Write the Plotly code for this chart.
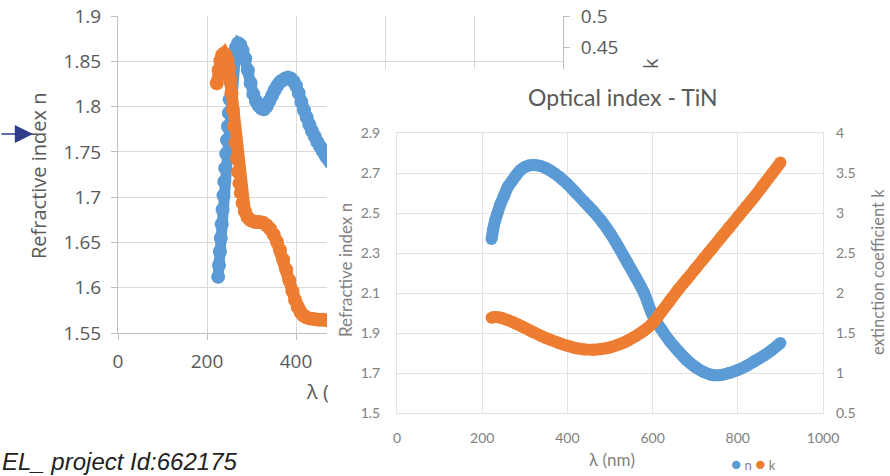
import plotly.graph_objects as go

W, H = 890, 476


def px(x):
    return x / W


def py(y):
    return 1 - y / H


BLUE = "#5b9bd5"
ORANGE = "#ed7d31"

# ---------------- left (partly hidden) chart data ----------------
left_n_wl = [225, 227, 229, 231, 233, 235, 237, 239, 241, 243, 245, 247, 249, 251, 254, 257,
             261, 265, 270, 275, 280, 286, 292, 298, 304, 310, 316, 322, 328, 334, 340, 346,
             352, 358, 364, 370, 376, 382, 388, 394, 400, 406, 412, 418, 424, 430, 436, 442,
             448, 454, 460, 466, 472, 478]
left_n = [1.612, 1.625, 1.640, 1.655, 1.670, 1.686, 1.702, 1.717, 1.732, 1.748, 1.763, 1.778,
          1.793, 1.808, 1.826, 1.841, 1.855, 1.865, 1.870, 1.868, 1.862, 1.853, 1.840, 1.826,
          1.814, 1.806, 1.801, 1.798, 1.797, 1.800, 1.806, 1.812, 1.818, 1.823, 1.827, 1.829,
          1.831, 1.832, 1.831, 1.828, 1.823, 1.815, 1.805, 1.796, 1.788, 1.780, 1.773, 1.767,
          1.761, 1.756, 1.751, 1.746, 1.742, 1.738]

left_k_wl = [222, 226, 230, 234, 238, 242, 246, 249, 252, 255, 258, 261, 264, 267, 270, 273,
             276, 280, 285, 291, 297, 304, 310, 318, 326, 334, 342, 350, 357, 364, 371, 378,
             385, 392, 398, 404, 410, 416, 422, 430, 440, 450, 460, 470, 480]
left_k = [0.394, 0.415, 0.430, 0.438, 0.441, 0.438, 0.430, 0.418, 0.400, 0.378, 0.352, 0.326,
          0.300, 0.275, 0.254, 0.236, 0.221, 0.205, 0.192, 0.183, 0.178, 0.176, 0.175, 0.175,
          0.174, 0.170, 0.164, 0.155, 0.144, 0.131, 0.116, 0.100, 0.083, 0.066, 0.052, 0.041,
          0.033, 0.028, 0.025, 0.023, 0.022, 0.021, 0.021, 0.020, 0.020]

# tick positions of the left chart; labels that lie under the overlapping panel are blank
left_x_ticks = [0, 200, 400, 600, 800, 1000]
left_x_labels = ["0", "200", "400", "", "", ""]
left_n_ticks = [1.55, 1.6, 1.65, 1.7, 1.75, 1.8, 1.85, 1.9]
left_n_labels = ["1.55", "1.6", "1.65", "1.7", "1.75", "1.8", "1.85", "1.9"]
left_k_ticks = [0, 0.05, 0.1, 0.15, 0.2, 0.25, 0.3, 0.35, 0.4, 0.45, 0.5]
left_k_labels = ["", "", "", "", "", "", "", "", "", "0.45", "0.5"]

# ---------------- right chart data: Optical index - TiN ----------------
tin_n_wl = [222, 226, 230, 236, 242, 250, 260, 270, 280, 290, 300, 310, 320, 330, 340, 350,
            360, 370, 380, 390, 400, 420, 440, 460, 480, 500, 520, 540, 560, 580, 600, 620,
            640, 660, 680, 700, 720, 740, 760, 780, 800, 820, 840, 860, 880, 900]
tin_n = [2.37, 2.42, 2.46, 2.50, 2.54, 2.58, 2.63, 2.66, 2.69, 2.715, 2.73, 2.738, 2.74, 2.738,
         2.733, 2.724, 2.712, 2.698, 2.682, 2.664, 2.645, 2.60, 2.555, 2.51, 2.46, 2.40, 2.33,
         2.255, 2.18, 2.10, 1.99, 1.92, 1.86, 1.81, 1.765, 1.73, 1.705, 1.69, 1.69, 1.70, 1.715,
         1.735, 1.76, 1.785, 1.815, 1.85]

tin_k_wl = [222, 230, 240, 250, 260, 270, 280, 290, 300, 320, 340, 360, 380, 400, 420, 440,
            460, 480, 500, 520, 540, 560, 580, 600, 620, 640, 660, 680, 700, 720, 740, 760,
            780, 800, 820, 840, 860, 880, 900]
tin_k = [1.69, 1.70, 1.695, 1.68, 1.66, 1.64, 1.615, 1.59, 1.565, 1.51, 1.46, 1.415, 1.375,
         1.34, 1.31, 1.295, 1.29, 1.30, 1.32, 1.355, 1.40, 1.46, 1.53, 1.62, 1.76, 1.90, 2.04,
         2.17, 2.30, 2.43, 2.56, 2.69, 2.82, 2.95, 3.08, 3.21, 3.35, 3.49, 3.63]

tin_x_ticks = [0, 200, 400, 600, 800, 1000]
tin_x_labels = ["0", "200", "400", "600", "800", "1000"]
tin_n_ticks = [1.5, 1.7, 1.9, 2.1, 2.3, 2.5, 2.7, 2.9]
tin_n_labels = ["1.5", "1.7", "1.9", "2.1", "2.3", "2.5", "2.7", "2.9"]
tin_k_ticks = [0.5, 1, 1.5, 2, 2.5, 3, 3.5, 4]
tin_k_labels = ["0.5", "1", "1.5", "2", "2.5", "3", "3.5", "4"]

LFONT = "Open Sans, DejaVu Sans, sans-serif"
RFONT = "Lato, Open Sans, sans-serif"
LGRAY = "#595959"
RGRAY = "#7f7f7f"

fig = go.Figure()

# left chart
fig.add_trace(go.Scatter(x=left_n_wl, y=left_n, mode="lines+markers", name="n",
                         line=dict(color=BLUE, width=11), marker=dict(color=BLUE, size=14),
                         xaxis="x", yaxis="y", showlegend=False, hoverinfo="skip"))
fig.add_trace(go.Scatter(x=left_k_wl, y=left_k, mode="lines+markers", name="k",
                         line=dict(color=ORANGE, width=12), marker=dict(color=ORANGE, size=14),
                         xaxis="x", yaxis="y2", showlegend=False, hoverinfo="skip"))
# white panel of the overlapping screenshot
fig.add_trace(go.Scatter(x=[], y=[], xaxis="x2", yaxis="y3", showlegend=False, hoverinfo="skip"))
# right chart
fig.add_trace(go.Scatter(x=tin_n_wl, y=tin_n, mode="lines+markers", name="n",
                         line=dict(color=BLUE, width=12, shape="spline"),
                         marker=dict(color=BLUE, size=12),
                         xaxis="x3", yaxis="y4", showlegend=False, hoverinfo="skip"))
fig.add_trace(go.Scatter(x=tin_k_wl, y=tin_k, mode="lines+markers", name="k",
                         line=dict(color=ORANGE, width=12, shape="spline"),
                         marker=dict(color=ORANGE, size=12),
                         xaxis="x3", yaxis="y5", showlegend=False, hoverinfo="skip"))

LGRID = "#d9d9d9"
LLINE = "#bfbfbf"
RGRID = "#e2e2e2"

common = dict(automargin=False, zeroline=False, fixedrange=True)

fig.update_layout(
    template="none",
    width=W, height=H, margin=dict(l=0, r=0, t=0, b=0, pad=0), autosize=False,
    paper_bgcolor="white", plot_bgcolor="white", showlegend=False,
    xaxis=dict(domain=[px(118), px(563)], range=[0, 1000], anchor="y",
               tickvals=left_x_ticks, ticktext=left_x_labels,
               showgrid=True, gridcolor=LGRID, gridwidth=1,
               showline=True, linecolor=LLINE, linewidth=1,
               ticks="outside", ticklen=6, tickcolor=LLINE, tickwidth=1,
               ticklabelstandoff=5,
               tickfont=dict(family=LFONT, size=19, color=LGRAY), **common),
    yaxis=dict(domain=[py(333), py(16)], range=[1.55, 1.9], anchor="x",
               tickvals=left_n_ticks, ticktext=left_n_labels,
               showgrid=True, gridcolor=LGRID, gridwidth=1,
               showline=True, linecolor=LLINE, linewidth=1,
               ticks="outside", ticklen=6, tickcolor=LLINE, tickwidth=1,
               ticklabelstandoff=6,
               tickfont=dict(family=LFONT, size=19, color=LGRAY), **common),
    yaxis2=dict(overlaying="y", side="right", anchor="x", range=[0, 0.5],
                tickvals=left_k_ticks, ticktext=left_k_labels,
                showgrid=False,
                showline=True, linecolor=LLINE, linewidth=1,
                ticks="outside", ticklen=6, tickcolor=LLINE, tickwidth=1,
                ticklabelstandoff=7,
                tickfont=dict(family=LFONT, size=19, color=LGRAY), **common),
    xaxis2=dict(domain=[px(327), 1], anchor="y3", visible=False, range=[0, 1], **common),
    yaxis3=dict(domain=[0, py(69)], anchor="x2", visible=False, range=[0, 1], **common),
    xaxis3=dict(domain=[px(397), px(823)], range=[0, 1000], anchor="y4",
                tickvals=tin_x_ticks, ticktext=tin_x_labels,
                showgrid=True, gridcolor=RGRID, gridwidth=1,
                showline=True, linecolor=RGRID, linewidth=1, mirror=True, ticks="",
                ticklabelstandoff=12,
                tickfont=dict(family=RFONT, size=14, color=RGRAY), **common),
    yaxis4=dict(domain=[py(413), py(133)], range=[1.5, 2.9], anchor="x3",
                tickvals=tin_n_ticks, ticktext=tin_n_labels,
                showgrid=True, gridcolor=RGRID, gridwidth=1,
                showline=True, linecolor=RGRID, linewidth=1, mirror=True, ticks="",
                ticklabelstandoff=13,
                tickfont=dict(family=RFONT, size=14, color=RGRAY), **common),
    yaxis5=dict(overlaying="y4", side="right", anchor="x3", range=[0.5, 4],
                tickvals=tin_k_ticks, ticktext=tin_k_labels,
                showgrid=False, showline=False, ticks="",
                ticklabelstandoff=12,
                tickfont=dict(family=RFONT, size=14, color=RGRAY), **common),
)


def label(text, x, y, size, color, family, angle=0, xanchor="center"):
    return dict(text=text, x=px(x), y=py(y), xref="paper", yref="paper",
                xanchor=xanchor, yanchor="middle", textangle=angle, showarrow=False,
                font=dict(family=family, size=size, color=color))


ann = []
# left chart texts
ann.append(label("Refractive index n", 38, 176, 20, LGRAY, LFONT, -90))
ann.append(label("λ (", 304, 391, 20, LGRAY, LFONT, xanchor="left"))
ann.append(label("k", 651, 64, 20, LGRAY, LFONT, -90))
# arrow
ann.append(dict(text="", x=px(33), y=py(134), xref="paper", yref="paper", showarrow=True,
                ax=-40, ay=0, arrowhead=2, arrowsize=2.8, arrowwidth=1.3, arrowcolor="#2e3c8c"))
# footer text
ann.append(label("<i>EL_ project Id:662175</i>", 0, 461, 24, "#222222",
                 "Liberation Sans, Arial, sans-serif", xanchor="left"))
# right chart texts
ann.append(label("Optical index - TiN", 623, 97, 23, LGRAY, RFONT))
ann.append(label("Refractive index n", 345, 270, 17, RGRAY, RFONT, -90))
ann.append(label("extinction coefficient k", 878, 272, 16.5, RGRAY, RFONT, -90))
ann.append(label("λ (nm)", 612, 459, 17, RGRAY, RFONT))
ann.append(label(f"<span style='color:{BLUE};font-size:17px'>●</span> n "
                 f"<span style='color:{ORANGE};font-size:17px'>●</span> k",
                 753, 463, 13, RGRAY, RFONT))
fig.update_layout(annotations=ann)

fig.write_html("out.html", config={"displayModeBar": False, "staticPlot": True},
               post_script="document.body.style.margin='0';")
